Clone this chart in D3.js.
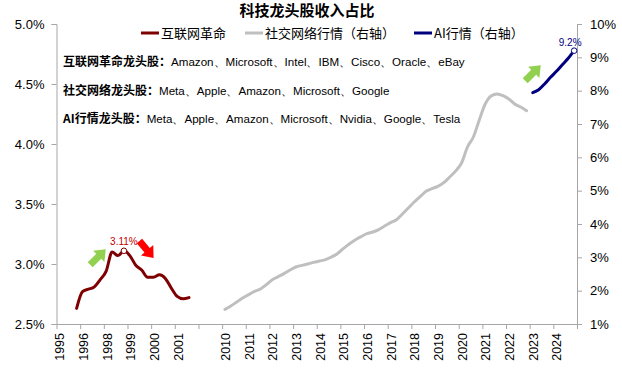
<!DOCTYPE html>
<html><head><meta charset="utf-8">
<script src="https://cdn.jsdelivr.net/npm/d3@7"></script>
<style>
html,body{margin:0;padding:0;background:#fff;}
svg{display:block;font-family:"Liberation Sans",Arial,"Noto Sans CJK SC",sans-serif;}
</style></head>
<body><svg id="c" width="622" height="382"></svg>
<script>
// ---- data ----
const xLabels = ["1995","1996","1998","1999","2000","2001","","2010","2011","2012","2013","2014","2015","2016","2017","2018","2019","2020","2021","2022","2023","2024"];
const leftTicks = [2.5,3.0,3.5,4.0,4.5,5.0];
const rightTicks = [1,2,3,4,5,6,7,8,9,10];
// quarterly series, positioned on the category axis (index of category slot)
const internetStart = 0.85;
const internetShare = [2.63,2.77,2.79,2.81,2.87,2.94,3.10,3.07,3.11,3.07,2.99,2.95,2.89,2.89,2.91,2.88,2.80,2.73,2.71,2.72];
const socialStart = 7.12;
const socialShare = [1.44,1.54,1.66,1.78,1.88,1.98,2.05,2.18,2.33,2.42,2.51,2.62,2.71,2.76,2.80,2.85,2.89,2.93,3.01,3.11,3.26,3.40,3.52,3.62,3.71,3.76,3.83,3.94,4.04,4.13,4.30,4.48,4.66,4.82,4.98,5.06,5.13,5.24,5.41,5.59,5.83,6.31,6.61,7.12,7.60,7.84,7.90,7.85,7.75,7.60,7.51,7.40];
const aiStart = 20.13;
const aiShare = [7.94,8.03,8.20,8.40,8.58,8.78,8.97,9.20];
const quarterStep = 0.25;
const seriesNames = ["互联网革命","社交网络行情（右轴）","AI行情（右轴）"];
const seriesColors = ["#7f0000","#bfbfbf","#00007f"];
const noteLines = [
  ["互联网革命龙头股：","Amazon、Microsoft、Intel、IBM、Cisco、Oracle、eBay"],
  ["社交网络龙头股：","Meta、Apple、Amazon、Microsoft、Google"],
  ["AI行情龙头股：","Meta、Apple、Amazon、Microsoft、Nvidia、Google、Tesla"]
];
const title = "科技龙头股收入占比";

// ---- chart ----
const svg = d3.select("#c");
const x = d3.scaleLinear().domain([0,22]).range([56.5,577]);
const yL = d3.scaleLinear().domain([2.5,5]).range([324,24]);
const yR = d3.scaleLinear().domain([1,10]).range([324,24]);
const axisColor = "#a6a6a6";

function styleAxis(g){
  g.select(".domain").attr("stroke",axisColor);
  g.selectAll(".tick line").attr("stroke",axisColor);
  g.selectAll(".tick text").attr("fill","#000").attr("font-size","13px")
   .attr("font-family",'"Liberation Sans",Arial,sans-serif');
}
// left axis
const gl = svg.append("g").attr("transform",`translate(${x(0)},0)`)
  .call(d3.axisLeft(yL).tickValues(leftTicks).tickFormat(d=>d.toFixed(1)+"%").tickSize(5).tickSizeOuter(5).tickPadding(7));
styleAxis(gl);
// right axis
const gr = svg.append("g").attr("transform",`translate(${x(22)},0)`)
  .call(d3.axisRight(yR).tickValues(rightTicks).tickFormat(d=>d+"%").tickSize(5).tickSizeOuter(5).tickPadding(8));
styleAxis(gr);
// bottom axis
const gb = svg.append("g").attr("transform",`translate(0,${yL(2.5)})`)
  .call(d3.axisBottom(x).tickValues(d3.range(0,23)).tickFormat(()=>"").tickSize(5).tickSizeOuter(0));
styleAxis(gb);
svg.append("g").selectAll("text").data(xLabels).join("text")
  .attr("transform",(d,i)=>`translate(${x(i)+3.5},333) rotate(-90)`)
  .attr("text-anchor","end").attr("dy","0.35em")
  .attr("font-size","12.5px").attr("fill","#000").text(d=>d);

const curve = d3.curveMonotoneX;
function drawSeries(start, vals, yS, color){
  const pts = vals.map((v,i)=>[x(start+i*quarterStep), yS(v)]);
  svg.append("path").datum(pts).attr("fill","none").attr("stroke",color)
    .attr("stroke-width",3).attr("stroke-linejoin","round").attr("stroke-linecap","round")
    .attr("d",d3.line().curve(curve));
  return pts;
}
drawSeries(socialStart, socialShare, yR, seriesColors[1]);
const ip = drawSeries(internetStart, internetShare, yL, seriesColors[0]);
const ap = drawSeries(aiStart, aiShare, yR, seriesColors[2]);

// peak markers & labels
const peakI = internetShare.indexOf(d3.max(internetShare));
svg.append("circle").attr("cx",ip[peakI][0]).attr("cy",ip[peakI][1]).attr("r",2.8)
  .attr("fill","#fff").attr("stroke",seriesColors[0]).attr("stroke-width",1);
svg.append("text").attr("x",ip[peakI][0]).attr("y",ip[peakI][1]-6).attr("text-anchor","middle")
  .attr("font-size","10px").attr("fill","#c00000").text(internetShare[peakI].toFixed(2)+"%");
const lastA = ap[ap.length-1];
svg.append("circle").attr("cx",lastA[0]).attr("cy",lastA[1]).attr("r",2.8)
  .attr("fill","#fff").attr("stroke",seriesColors[2]).attr("stroke-width",1);
svg.append("text").attr("x",lastA[0]-4).attr("y",lastA[1]-5).attr("text-anchor","middle")
  .attr("font-size","10px").attr("fill",seriesColors[2]).text(aiShare[aiShare.length-1].toFixed(1)+"%");

// arrows
const arrowShape = "M-11,-3.5 L1,-3.5 L1,-8 L11,0 L1,8 L1,3.5 L-11,3.5 Z";
function arrow(cx,cy,ang,color){
  svg.append("path").attr("d",arrowShape).attr("fill",color)
    .attr("transform",`translate(${cx},${cy}) rotate(${ang})`);
}
arrow(98,257,-45,"#92d050");
arrow(146.5,249.5,50,"#ff0000");
arrow(533,73,-45,"#92d050");

// title
svg.append("text").attr("x",307).attr("y",16).attr("text-anchor","middle")
  .attr("font-size","15px").attr("font-weight","bold").attr("fill","#000")
  .attr("font-family",'"Noto Sans CJK SC",sans-serif').text(title);

// legend
const legX = [141,245,414];
seriesNames.forEach((n,i)=>{
  svg.append("line").attr("x1",legX[i]).attr("x2",legX[i]+18).attr("y1",33).attr("y2",33)
    .attr("stroke",seriesColors[i]).attr("stroke-width",3);
  svg.append("text").attr("x",legX[i]+20).attr("y",33).attr("dy","0.35em")
    .attr("font-size","13px").attr("fill","#000")
    .attr("font-family",'"Noto Sans CJK SC",sans-serif').text(n);
});

// notes
noteLines.forEach((l,i)=>{
  const t = svg.append("text").attr("x",63).attr("y",[60,89,117][i]).attr("dy","0.35em")
    .attr("fill","#000");
  t.append("tspan").attr("font-size","12px").attr("font-weight","bold").attr("font-family",'"Noto Sans CJK SC",sans-serif').text(l[0]);
  t.append("tspan").attr("font-size","11.6px").attr("font-family",'"Liberation Sans",Arial,sans-serif').text(l[1]);
});
</script></body></html>
